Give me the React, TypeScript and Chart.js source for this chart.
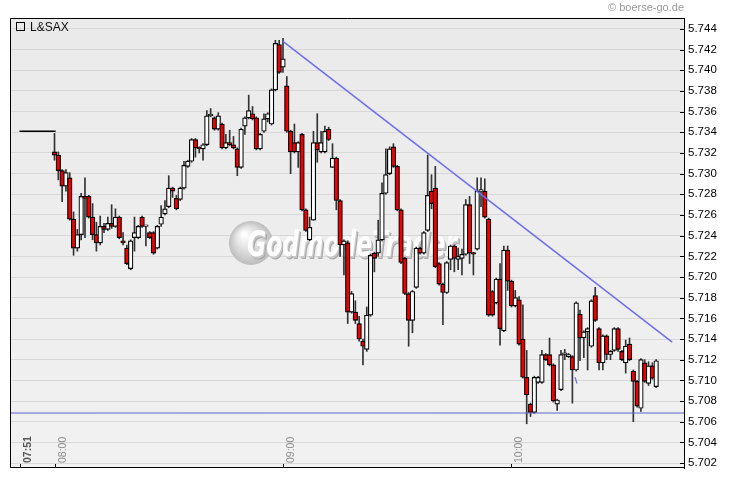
import React, { useEffect, useRef } from 'react';
import { Chart, registerables } from 'chart.js';

Chart.register(...registerables);

// minutes after 07:00 of the first one-minute candle (08:00)
const FIRST_MINUTE = 60;

const opens = [
  5.7321, 5.7318, 5.7303, 5.7288, 5.7296, 5.7256, 5.7228, 5.7241, 5.7278, 5.7278,
  5.7258, 5.7241, 5.7233, 5.7249, 5.7246, 5.7252, 5.7249, 5.7258, 5.7235, 5.7228,
  5.7208, 5.7238, 5.7238, 5.7258, 5.7249, 5.7243, 5.7243, 5.7228, 5.7251, 5.7261,
  5.7268, 5.7286, 5.7276, 5.7275, 5.7286, 5.7307, 5.7312, 5.7333, 5.7325, 5.7324,
  5.7328, 5.7356, 5.7354, 5.7343, 5.7348, 5.7325, 5.7330, 5.7328, 5.7324, 5.7306,
  5.7346, 5.7354, 5.7358, 5.7354, 5.7324, 5.7341, 5.7353, 5.7348, 5.7381, 5.7425,
  5.7403, 5.7385, 5.7341, 5.7330, 5.7321, 5.7338, 5.7265, 5.7236, 5.7255, 5.7330,
  5.7321, 5.7321, 5.7343, 5.7306, 5.7315, 5.7274, 5.7231, 5.7233, 5.7166, 5.7166,
  5.7155, 5.7138, 5.7130, 5.7163, 5.7223, 5.7223, 5.7236, 5.7281, 5.7300, 5.7326,
  5.7307, 5.7265, 5.7218, 5.7184, 5.7158, 5.7190, 5.7228, 5.7223, 5.7245, 5.7283,
  5.7286, 5.7213, 5.7193, 5.7185, 5.7217, 5.7230, 5.7217, 5.7218, 5.7222, 5.7270,
  5.7223, 5.7227, 5.7283, 5.7283, 5.7256, 5.7186, 5.7175, 5.7198, 5.7148, 5.7226,
  5.7196, 5.7172, 5.7178, 5.7140, 5.7103, 5.7077, 5.7069, 5.7098, 5.7098, 5.7125,
  5.7125, 5.7115, 5.7077, 5.7091, 5.7125, 5.7123, 5.7123, 5.7110, 5.7164, 5.7141,
  5.7147, 5.7133, 5.7182, 5.7150, 5.7117, 5.7143, 5.7125, 5.7129, 5.7150, 5.7128,
  5.7117, 5.7135, 5.7109, 5.7099, 5.7073, 5.7117, 5.7097, 5.7114, 5.7094,
];

const highs = [
  5.7339, 5.7321, 5.7304, 5.7304, 5.7301, 5.7263, 5.7246, 5.7281, 5.7296, 5.7279,
  5.7271, 5.7253, 5.7259, 5.7252, 5.7258, 5.7270, 5.7266, 5.7259, 5.7243, 5.7231,
  5.7236, 5.7258, 5.7250, 5.7259, 5.7250, 5.7244, 5.7244, 5.7250, 5.7269, 5.7274,
  5.7298, 5.7287, 5.7279, 5.7287, 5.7312, 5.7313, 5.7334, 5.7334, 5.7326, 5.7329,
  5.7361, 5.7363, 5.7355, 5.7359, 5.7349, 5.7338, 5.7342, 5.7336, 5.7325, 5.7344,
  5.7355, 5.7376, 5.7365, 5.7355, 5.7339, 5.7358, 5.7359, 5.7382, 5.7429, 5.7429,
  5.7431, 5.7394, 5.7342, 5.7348, 5.7331, 5.7339, 5.7266, 5.7258, 5.7341, 5.7358,
  5.7341, 5.7346, 5.7345, 5.7329, 5.7316, 5.7275, 5.7236, 5.7235, 5.7186, 5.7177,
  5.7162, 5.7140, 5.7171, 5.7222, 5.7224, 5.7255, 5.7291, 5.7324, 5.7326, 5.7329,
  5.7308, 5.7266, 5.7219, 5.7185, 5.7187, 5.7229, 5.7229, 5.7244, 5.7318, 5.7299,
  5.7307, 5.7214, 5.7194, 5.7215, 5.7231, 5.7231, 5.7228, 5.7227, 5.7275, 5.7278,
  5.7224, 5.7296, 5.7296, 5.7295, 5.7257, 5.7187, 5.7199, 5.7213, 5.7230, 5.7230,
  5.7197, 5.7187, 5.7181, 5.7173, 5.7129, 5.7078, 5.7104, 5.7104, 5.7129, 5.7126,
  5.7141, 5.7116, 5.7082, 5.7129, 5.7130, 5.7126, 5.7124, 5.7176, 5.7168, 5.7148,
  5.7151, 5.7178, 5.7190, 5.7151, 5.7144, 5.7144, 5.7129, 5.7151, 5.7151, 5.7129,
  5.7139, 5.7141, 5.7110, 5.7100, 5.7121, 5.7120, 5.7118, 5.7117, 5.7120,
];

const lows = [
  5.7313, 5.7294, 5.7273, 5.7283, 5.7255, 5.7221, 5.7225, 5.7236, 5.7238, 5.7257,
  5.7236, 5.7225, 5.7231, 5.7243, 5.7245, 5.7247, 5.7248, 5.7237, 5.7231, 5.7212,
  5.7207, 5.7225, 5.7237, 5.7248, 5.7230, 5.7237, 5.7222, 5.7227, 5.7249, 5.7260,
  5.7267, 5.7277, 5.7265, 5.7274, 5.7285, 5.7306, 5.7311, 5.7316, 5.7320, 5.7313,
  5.7327, 5.7355, 5.7342, 5.7342, 5.7324, 5.7324, 5.7327, 5.7324, 5.7298, 5.7305,
  5.7338, 5.7353, 5.7352, 5.7323, 5.7323, 5.7340, 5.7350, 5.7347, 5.7380, 5.7397,
  5.7398, 5.7340, 5.7300, 5.7320, 5.7306, 5.7264, 5.7244, 5.7235, 5.7255, 5.7311,
  5.7320, 5.7320, 5.7332, 5.7306, 5.7265, 5.7220, 5.7202, 5.7155, 5.7165, 5.7155,
  5.7138, 5.7115, 5.7128, 5.7162, 5.7205, 5.7220, 5.7235, 5.7280, 5.7299, 5.7306,
  5.7264, 5.7213, 5.7183, 5.7133, 5.7146, 5.7189, 5.7222, 5.7222, 5.7244, 5.7266,
  5.7209, 5.7192, 5.7154, 5.7184, 5.7207, 5.7205, 5.7207, 5.7202, 5.7221, 5.7213,
  5.7202, 5.7226, 5.7268, 5.7257, 5.7162, 5.7162, 5.7174, 5.7134, 5.7147, 5.7187,
  5.7171, 5.7171, 5.7134, 5.7102, 5.7058, 5.7065, 5.7068, 5.7097, 5.7097, 5.7119,
  5.7114, 5.7079, 5.7071, 5.7090, 5.7120, 5.7122, 5.7078, 5.7109, 5.7119, 5.7122,
  5.7110, 5.7132, 5.7157, 5.7110, 5.7110, 5.7120, 5.7120, 5.7128, 5.7128, 5.7119,
  5.7107, 5.7119, 5.7060, 5.7074, 5.7070, 5.7098, 5.7095, 5.7101, 5.7093,
];

const closes = [
  5.7318, 5.7303, 5.7288, 5.7301, 5.7256, 5.7228, 5.7241, 5.7278, 5.7276, 5.7258,
  5.7241, 5.7233, 5.7249, 5.7246, 5.7252, 5.7249, 5.7258, 5.7238, 5.7233, 5.7213,
  5.7235, 5.7243, 5.7249, 5.7249, 5.7249, 5.7238, 5.7223, 5.7249, 5.7258, 5.7266,
  5.7286, 5.7283, 5.7266, 5.7286, 5.7308, 5.7312, 5.7333, 5.7325, 5.7324, 5.7328,
  5.7356, 5.7356, 5.7343, 5.7356, 5.7325, 5.7330, 5.7328, 5.7325, 5.7306, 5.7343,
  5.7354, 5.7361, 5.7353, 5.7324, 5.7338, 5.7353, 5.7358, 5.7381, 5.7426, 5.7398,
  5.7411, 5.7341, 5.7321, 5.7321, 5.7330, 5.7265, 5.7245, 5.7248, 5.7330, 5.7323,
  5.7330, 5.7341, 5.7333, 5.7315, 5.7274, 5.7231, 5.7235, 5.7166, 5.7184, 5.7158,
  5.7140, 5.7133, 5.7163, 5.7221, 5.7218, 5.7236, 5.7281, 5.7299, 5.7324, 5.7307,
  5.7265, 5.7214, 5.7184, 5.7158, 5.7186, 5.7228, 5.7223, 5.7243, 5.7279, 5.7271,
  5.7210, 5.7193, 5.7185, 5.7214, 5.7230, 5.7218, 5.7220, 5.7222, 5.7270, 5.7223,
  5.7222, 5.7283, 5.7283, 5.7258, 5.7163, 5.7163, 5.7198, 5.7150, 5.7226, 5.7196,
  5.7172, 5.7180, 5.7135, 5.7103, 5.7086, 5.7069, 5.7103, 5.7103, 5.7125, 5.7120,
  5.7115, 5.7080, 5.7081, 5.7125, 5.7125, 5.7125, 5.7110, 5.7175, 5.7141, 5.7147,
  5.7150, 5.7177, 5.7158, 5.7117, 5.7143, 5.7125, 5.7128, 5.7150, 5.7130, 5.7120,
  5.7133, 5.7120, 5.7099, 5.7075, 5.7120, 5.7099, 5.7114, 5.7102, 5.7119,
];

const minutes = opens.map((_, i) => FIRST_MINUTE + i);

// flat pre-market line 07:51 - 08:00
const preMinutes = [50.8, 60.3];
const preValues = [5.7341, 5.7341];

// drawn trend line
const trendMinutes = [120, 222.2];
const trendValues = [5.7428, 5.7137];

// horizontal support line
const supportLevel = 5.70684;

// small blue stroke near 10:17
const markMinutes = [196.7, 197.2];
const markValues = [5.7103, 5.7097];

// axes
const X_MIN = 48.31;
const X_MAX = 225.31;
const Y_MIN = 5.70152;
const Y_MAX = 5.74506;
const yTicks = [
  5.702, 5.704, 5.706, 5.708, 5.71, 5.712, 5.714, 5.716, 5.718, 5.72, 5.722,
  5.724, 5.726, 5.728, 5.73, 5.732, 5.734, 5.736, 5.738, 5.74, 5.742, 5.744,
];
const timeTickMinutes = [51, 60, 120, 180];
const timeTickLabels = ['07:51', '08:00', '09:00', '10:00'];

const seriesName = 'L&SAX';
const copyright = '\u00a9 boerse-go.de';
const watermark = 'GodmodeTrader';

const FONT = '"Liberation Sans", Arial, sans-serif';

const decoPlugin = {
  id: 'deco',
  beforeDraw(chart: any) {
    const { ctx, chartArea: ca, width, height } = chart;
    ctx.save();
    ctx.fillStyle = '#ffffff';
    ctx.fillRect(0, 0, width, height);
    const g = ctx.createLinearGradient(0, ca.top, 0, ca.bottom);
    g.addColorStop(0, '#eaeaea');
    g.addColorStop(1, '#f1f1f1');
    ctx.fillStyle = g;
    ctx.fillRect(ca.left, ca.top, ca.right - ca.left, ca.bottom - ca.top);
    ctx.restore();
  },
  beforeDatasetsDraw(chart: any) {
    const { ctx, chartArea: ca } = chart;
    const cx = (ca.left + ca.right) / 2;
    const cy = (ca.top + ca.bottom) / 2;
    ctx.save();
    // sphere
    const sx = cx - 96;
    const sy = cy;
    const r = 22;
    const rg = ctx.createRadialGradient(sx - 7, sy - 9, 2, sx, sy, r);
    rg.addColorStop(0, '#fdfdfd');
    rg.addColorStop(0.55, '#dcdcdc');
    rg.addColorStop(1, '#bdbdbd');
    ctx.fillStyle = rg;
    ctx.beginPath();
    ctx.arc(sx, sy, r, 0, Math.PI * 2);
    ctx.fill();
    // text with 3d shade
    ctx.font = `italic bold 35px "DejaVu Sans", ${FONT}`;
    ctx.textAlign = 'left';
    ctx.textBaseline = 'alphabetic';
    const tx = cx - 100;
    const ty = cy + 13;
    ctx.fillStyle = '#a9a9a9';
    ctx.fillText(watermark, tx + 2, ty + 3, 210);
    ctx.fillStyle = '#c8c8c8';
    ctx.fillText(watermark, tx + 1, ty + 1.5, 210);
    ctx.fillStyle = '#fdfdfd';
    ctx.fillText(watermark, tx, ty, 210);
    ctx.restore();
  },
  afterDraw(chart: any) {
    const { ctx, chartArea: ca } = chart;
    const xs = chart.scales.x;
    const ys = chart.scales.y;
    ctx.save();
    // frame
    ctx.strokeStyle = '#000';
    ctx.lineWidth = 1;
    ctx.beginPath();
    ctx.moveTo(ca.left + 0.5, ca.bottom);
    ctx.lineTo(ca.left + 0.5, ca.top + 0.5);
    ctx.lineTo(ca.right, ca.top + 0.5);
    ctx.moveTo(ca.left, ca.bottom - 0.5);
    ctx.lineTo(ca.right, ca.bottom - 0.5);
    ctx.stroke();
    // y inner tick marks
    ctx.beginPath();
    yTicks.forEach((v) => {
      const y = Math.round(ys.getPixelForValue(v)) + 0.5;
      ctx.moveTo(ca.right - 4, y);
      ctx.lineTo(ca.right, y);
    });
    ctx.stroke();
    // time ticks & labels
    timeTickMinutes.forEach((m, i) => {
      const x = Math.round(xs.getPixelForValue(m)) + 0.5;
      ctx.strokeStyle = '#000';
      ctx.beginPath();
      ctx.moveTo(x, ca.bottom - 4);
      ctx.lineTo(x, ca.bottom);
      ctx.stroke();
      ctx.save();
      ctx.translate(x + 10, ca.bottom - 5);
      ctx.rotate(-Math.PI / 2);
      ctx.font = i === 0 ? `bold 10.5px ${FONT}` : `10.5px ${FONT}`;
      ctx.fillStyle = i === 0 ? '#555555' : '#8c8c8c';
      ctx.textAlign = 'left';
      ctx.textBaseline = 'alphabetic';
      ctx.fillText(timeTickLabels[i], 0, 0);
      ctx.restore();
    });
    // legend
    ctx.strokeStyle = '#000';
    ctx.lineWidth = 1;
    ctx.strokeRect(ca.left + 6.5, ca.top + 4.5, 8, 8);
    ctx.font = `12px ${FONT}`;
    ctx.fillStyle = '#111';
    ctx.textAlign = 'left';
    ctx.textBaseline = 'alphabetic';
    ctx.fillText(seriesName, ca.left + 20, ca.top + 13);
    // copyright
    ctx.font = `11px ${FONT}`;
    ctx.fillStyle = '#9a9a9a';
    ctx.textAlign = 'right';
    ctx.fillText(copyright, ca.right, 11);
    ctx.restore();
  },
};

export default function App() {
  const ref = useRef<HTMLCanvasElement>(null);

  useEffect(() => {
    if (!ref.current) return;
    const bodyData = minutes.map((m, i) => ({ x: m, y: [opens[i], closes[i]] }));
    const wickData = minutes.map((m, i) => ({ x: m, y: [lows[i], highs[i]] }));
    const bodyColors = minutes.map((_, i) => (closes[i] < opens[i] ? '#f00000' : '#ffffff'));

    const chart = new Chart(ref.current, {
      type: 'bar',
      data: {
        datasets: [
          {
            type: 'bar',
            data: wickData as any,
            backgroundColor: '#333333',
            borderWidth: 0,
            barThickness: 1,
            grouped: false,
            minBarLength: 1,
            order: 4,
          } as any,
          {
            type: 'bar',
            data: bodyData as any,
            backgroundColor: bodyColors,
            borderColor: '#000000',
            borderWidth: 1.2,
            borderSkipped: false,
            barThickness: 4.6,
            grouped: false,
            minBarLength: 1.6,
            order: 3,
          } as any,
          {
            type: 'line',
            data: preMinutes.map((m, i) => ({ x: m, y: preValues[i] })),
            borderColor: '#000000',
            borderWidth: 1.5,
            pointRadius: 0,
            order: 2,
          } as any,
          {
            type: 'line',
            data: [
              { x: X_MIN, y: supportLevel },
              { x: X_MAX, y: supportLevel },
            ],
            borderColor: '#6262c8',
            borderWidth: 1,
            pointRadius: 0,
            order: 1,
          } as any,
          {
            type: 'line',
            data: trendMinutes.map((m, i) => ({ x: m, y: trendValues[i] })),
            borderColor: '#6e6ef0',
            borderWidth: 1.5,
            pointRadius: 0,
            order: 0,
          } as any,
          {
            type: 'line',
            data: markMinutes.map((m, i) => ({ x: m, y: markValues[i] })),
            borderColor: '#6e6ef0',
            borderWidth: 1.2,
            pointRadius: 0,
            order: 0,
          } as any,
        ],
      },
      options: {
        animation: false,
        responsive: false,
        maintainAspectRatio: false,
        devicePixelRatio: 1,
        layout: { padding: { left: 10, top: 18, right: 0, bottom: 13 } },
        plugins: { legend: { display: false }, tooltip: { enabled: false }, title: { display: false } },
        scales: {
          x: {
            type: 'linear',
            min: X_MIN,
            max: X_MAX,
            offset: false,
            display: false,
          },
          y: {
            type: 'linear',
            position: 'right',
            min: Y_MIN,
            max: Y_MAX,
            afterBuildTicks: (s: any) => {
              s.ticks = yTicks.map((v) => ({ value: v }));
            },
            afterFit: (s: any) => {
              s.width = 46;
            },
            grid: { color: '#d8d8d8', lineWidth: 1, drawTicks: false },
            border: { display: true, color: '#000000', width: 1 },
            ticks: {
              padding: 4,
              color: '#000000',
              font: { family: FONT, size: 11.5 },
              callback: (v: any) => Number(v).toFixed(3),
            },
          },
        },
      } as any,
      plugins: [decoPlugin],
    });
    return () => chart.destroy();
  }, []);

  return (
    <div style={{ position: 'fixed', left: 0, top: 0, width: 730, height: 481, background: '#fff' }}>
      <canvas ref={ref} width={730} height={481} style={{ width: 730, height: 481, display: 'block' }} />
    </div>
  );
}
